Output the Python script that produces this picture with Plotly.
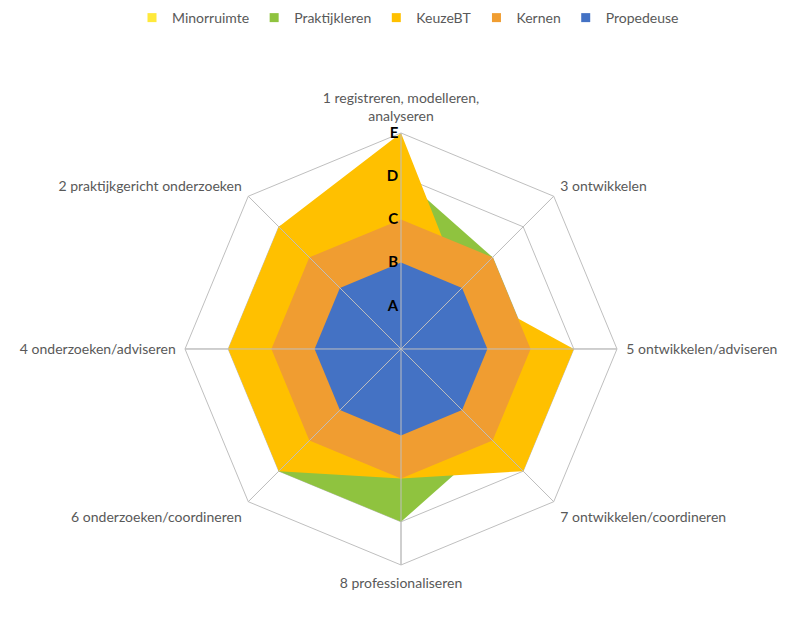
import plotly.graph_objects as go

# axes in clockwise order, starting at the top
categories = [
    "1 registreren, modelleren,<br>analyseren",
    "3 ontwikkelen",
    "5 ontwikkelen/adviseren",
    "7 ontwikkelen/coordineren",
    "8 professionaliseren",
    "6 onderzoeken/coordineren",
    "4 onderzoeken/adviseren",
    "2 praktijkgericht onderzoeken",
]

minorruimte = [0, 0, 0, 0, 0, 0, 0, 0]
praktijkleren = [4, 3, 3, 3, 4, 4, 3, 3]
keuzebt = [5, 2, 4, 4, 3, 4, 4, 4]
kernen = [3, 3, 3, 3, 3, 3, 3, 3]
propedeuse = [2, 2, 2, 2, 2, 2, 2, 2]

level_vals = [1, 2, 3, 4, 5]
level_text = ["A", "B", "C", "D", "E"]

series = [
    ("Minorruimte", minorruimte, "#FFE93B"),
    ("Praktijkleren", praktijkleren, "#8FC33F"),
    ("KeuzeBT", keuzebt, "#FFC000"),
    ("Kernen", kernen, "#F09D31"),
    ("Propedeuse", propedeuse, "#4472C4"),
]

grid_color = "#BFBFBF"

fig = go.Figure()

for name, vals, color in series:
    fig.add_trace(go.Scatterpolar(
        r=vals + vals[:1],
        theta=categories + categories[:1],
        name=name,
        legendgroup=name,
        showlegend=False,
        mode="lines",
        fill="toself",
        fillcolor=color,
        line=dict(color=color, width=0),
    ))

# spokes drawn over the fills, like in the original
for cat in categories:
    fig.add_trace(go.Scatterpolar(
        r=[0, level_vals[-1]],
        theta=[cat, cat],
        mode="lines",
        line=dict(color=grid_color, width=1),
        showlegend=False,
        hoverinfo="skip",
    ))

# small square legend keys (Excel style)
for name, vals, color in series:
    fig.add_trace(go.Scatterpolar(
        r=[None],
        theta=[categories[0]],
        name=name,
        legendgroup=name,
        mode="markers",
        marker=dict(symbol="square", size=9, color=color),
        hoverinfo="skip",
    ))

fig.update_layout(
    width=800,
    height=629,
    paper_bgcolor="white",
    plot_bgcolor="white",
    margin=dict(l=0, r=0, t=0, b=0, autoexpand=False),
    font=dict(family="Lato, Open Sans, sans-serif", size=14, color="#595959"),
    legend=dict(
        orientation="h",
        x=0.5, xanchor="center",
        y=1.0095, yanchor="top",
        font=dict(size=14, color="#595959"),
        itemwidth=30,
    ),
    polar=dict(
        domain=dict(x=[0.22125, 0.76125], y=[0.1145, 0.8013]),
        gridshape="linear",
        bgcolor="white",
        angularaxis=dict(
            rotation=90,
            direction="clockwise",
            showline=True,
            linecolor=grid_color,
            linewidth=1,
            gridcolor=grid_color,
            ticks="outside",
            ticklen=6,
            tickcolor="rgba(0,0,0,0)",
            tickfont=dict(size=14, color="#595959"),
        ),
        radialaxis=dict(
            range=[0, 5],
            angle=90,
            tickangle=90,
            side="counterclockwise",
            tickvals=level_vals,
            ticktext=["<b>%s</b>" % t for t in level_text],
            tickfont=dict(size=15, color="black"),
            showline=False,
            gridcolor=grid_color,
            ticks="",
        ),
    ),
)

fig.write_html("out.html")
